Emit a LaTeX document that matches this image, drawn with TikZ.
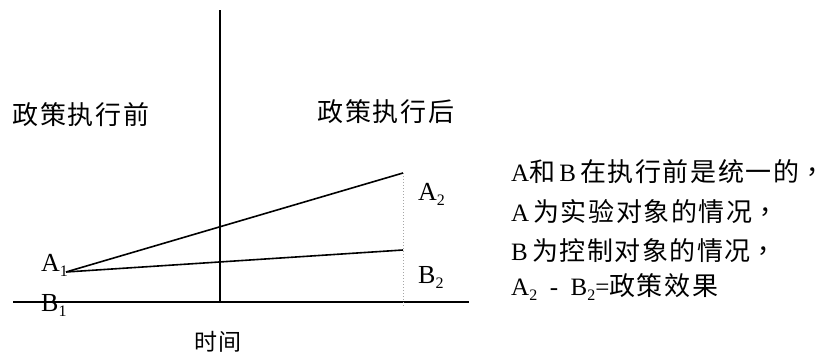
\documentclass[tikz,border=0pt]{standalone}
\usepackage{fontspec}
\setmainfont{Liberation Serif}
\newfontfamily\cjk[LetterSpace=6]{Noto Sans CJK SC}
\newfontfamily\cjktc{Noto Sans CJK TC}
\newcommand\zh[1]{{\fontsize{26}{30}\selectfont\cjk #1}}
\newcommand\zhcomma{{\fontsize{26}{30}\selectfont\cjktc ，}}
\newcommand\lsub[1]{\raisebox{-0.22em}{\fontsize{16}{16}\selectfont #1}}
\begin{document}
\begin{tikzpicture}[x=1pt,y=-1pt,
  axis/.style={line width=2pt,black},
  trend/.style={line width=1.6pt,black},
  guide/.style={line width=1pt,gray!70,dotted},
  lab/.style={inner sep=0pt,anchor=base west,font=\fontsize{26}{28}\selectfont},
  zhlab/.style={inner sep=0pt,font=\fontsize{26}{30}\selectfont\cjk},
  note/.style={inner sep=0pt,anchor=base west,font=\fontsize{25}{28}\selectfont}]
\useasboundingbox (0,0) rectangle (832,356);
% axes
\coordinate (hl) at (13,302);
\coordinate (hr) at (469,302);
\coordinate (vt) at (220,10);
\coordinate (vb) at (220,302);
\draw[axis] (hl) -- (hr);
\draw[axis] (vt) -- (vb);
% trend lines
\coordinate (o) at (66,272);
\coordinate (a2) at (403,173);
\coordinate (b2) at (403,250);
\coordinate (d) at (403,306);
\draw[guide] (a2) -- (d);
\draw[trend] (o) -- (a2);
\draw[trend] (o) -- (b2);
% labels
\node[lab] (A1) at (41,271) {A\lsub{1}};
\node[lab] (B1) at (41,311) {B\lsub{1}};
\node[lab] (A2) at (418,200) {A\lsub{2}};
\node[lab] (B2) at (418,283) {B\lsub{2}};
\node[zhlab] (pre) at (81,115) {政策执行前};
\node[zhlab] (post) at (386,112) {政策执行后};
\node[zhlab,font=\fontsize{23}{26}\selectfont\cjk] (time) at (218,342) {时间};
% notes
\node[note] (n1) at (511,181) {A\zh{和}\,B\,\zh{在执行前是统一的}\zhcomma};
\node[note] (n2) at (511,221) {A\,\zh{为实验对象的情况}\zhcomma};
\node[note] (n3) at (511,260) {B\,\zh{为控制对象的情况}\zhcomma};
\node[note] (n4) at (511,295) {A\lsub{2}\ \ -\ \ B\lsub{2}=\zh{政策效果}};
\end{tikzpicture}
\end{document}
